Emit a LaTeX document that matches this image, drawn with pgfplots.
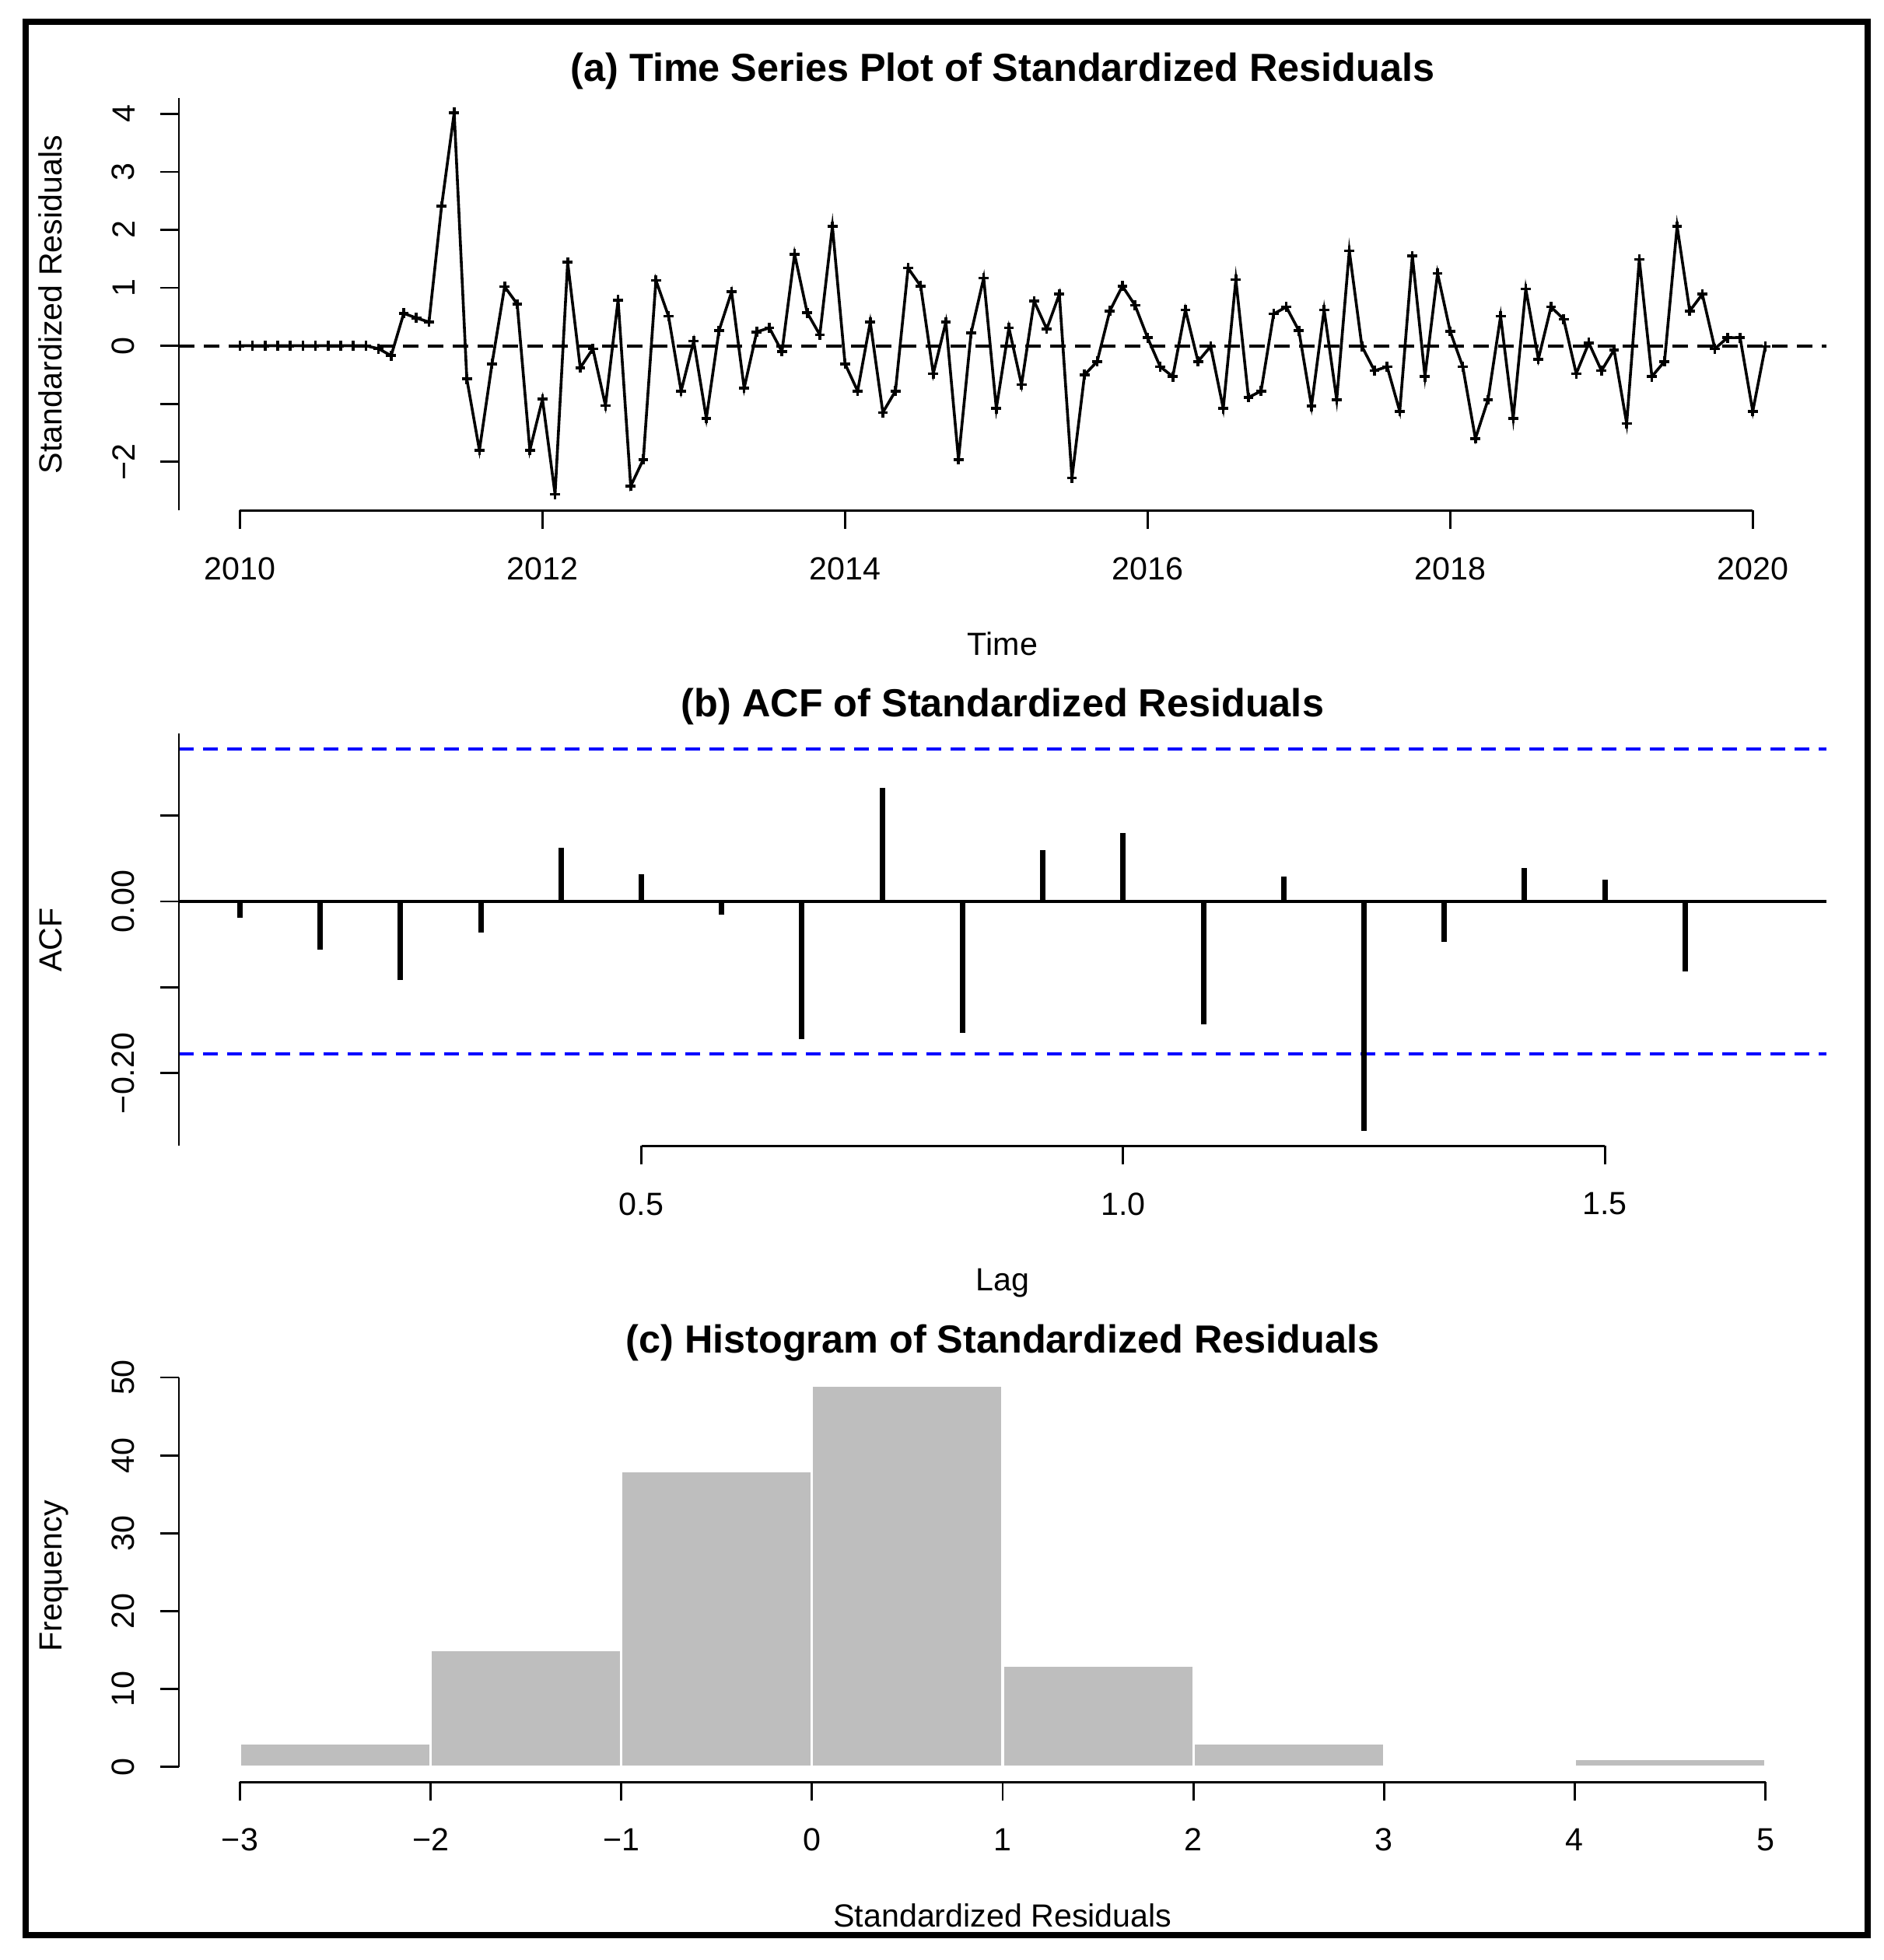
\documentclass[border=0pt]{standalone}
\usepackage{fontspec}
\setmainfont{Liberation Sans}
\usepackage{pgfplots}
\pgfplotsset{compat=1.18}
\usepackage{pgfplotstable}

\definecolor{histgray}{RGB}{190,190,190}
\newcommand{\labfont}{\fontsize{10.3}{12}\selectfont}
\newcommand{\ttlfont}{\fontsize{12.6}{15}\selectfont\bfseries}

% standardized residuals, monthly from Jan 2010 (m = month index)
\pgfplotstableread{
m r
0 0.001
1 0.001
2 0.001
3 0.001
4 0.001
5 0.001
6 0.001
7 0.001
8 0.001
9 0.001
10 0.001
11 -0.05
12 -0.17
13 0.56
14 0.48
15 0.41
16 2.41
17 4.02
18 -0.57
19 -1.80
20 -0.31
21 1.02
22 0.72
23 -1.80
24 -0.92
25 -2.56
26 1.44
27 -0.38
28 -0.05
29 -1.03
30 0.79
31 -2.42
32 -1.96
33 1.13
34 0.51
35 -0.78
36 0.08
37 -1.25
38 0.26
39 0.93
40 -0.73
41 0.24
42 0.31
43 -0.10
44 1.58
45 0.57
46 0.19
47 2.06
48 -0.31
49 -0.78
50 0.41
51 -1.15
52 -0.78
53 1.34
54 1.03
55 -0.48
56 0.41
57 -1.96
58 0.22
59 1.17
60 -1.08
61 0.31
62 -0.67
63 0.77
64 0.29
65 0.89
66 -2.28
67 -0.50
68 -0.27
69 0.60
70 1.03
71 0.70
72 0.14
73 -0.36
74 -0.53
75 0.62
76 -0.27
77 -0.01
78 -1.08
79 1.14
80 -0.89
81 -0.78
82 0.55
83 0.67
84 0.26
85 -1.04
86 0.62
87 -0.93
88 1.64
89 -0.01
90 -0.43
91 -0.36
92 -1.13
93 1.55
94 -0.53
95 1.25
96 0.25
97 -0.36
98 -1.60
99 -0.93
100 0.51
101 -1.25
102 0.98
103 -0.23
104 0.67
105 0.46
106 -0.48
107 0.05
108 -0.43
109 -0.07
110 -1.34
111 1.49
112 -0.53
113 -0.27
114 2.06
115 0.60
116 0.89
117 -0.05
118 0.14
119 0.14
120 -1.13
121 -0.01
}\resid

% autocorrelations, lag k months
\pgfplotstableread{
k acf
1 -0.019
2 -0.056
3 -0.091
4 -0.036
5 0.063
6 0.032
7 -0.015
8 -0.160
9 0.132
10 -0.153
11 0.060
12 0.080
13 -0.143
14 0.029
15 -0.267
16 -0.047
17 0.039
18 0.025
19 -0.081
}\acftab

\pgfplotsset{
  rpanel/.style={
    scale only axis, width=529.5pt, height=132.5pt,
    axis x line*=bottom, axis y line*=left,
    axis line style={draw=none},
    tick align=outside, major tick length=6pt,
    tick style={black, line width=0.7pt},
    ticklabel style={font=\labfont, inner sep=0pt},
    xticklabel style={anchor=north},
    yticklabel style={rotate=90, anchor=south},
    xticklabel shift=8.75pt, yticklabel shift=8pt,
    clip=false,
  },
}

\begin{document}
\begin{tikzpicture}
\path (0,0) rectangle (605.5pt,630pt);
\draw[line width=1.9pt] (8.25pt,8pt) rectangle (600.25pt,623pt);

% (a) time series
\begin{axis}[rpanel, at={(57.5pt,465.875pt)}, anchor=south west,
  xmin=2009.597, xmax=2020.487, ymin=-2.842, ymax=4.267,
  xtick={2010,2012,2014,2016,2018,2020},
  xticklabels={2010,2012,2014,2016,2018,2020},
  ytick={-2,-1,0,1,2,3,4}, yticklabels={−2,,0,1,2,3,4}]
  \addplot[black, line width=0.9pt, mark=+, mark size=1.6pt,
    mark options={line width=0.9pt}]
    table[x expr=2010+\thisrow{m}/12, y=r] {\resid};
  \addplot[black, line width=1pt, dash pattern=on 5pt off 3pt]
    coordinates {(2009.597,0) (2020.487,0)};
  \draw[line width=0.7pt] (rel axis cs:0,0) -- (rel axis cs:0,1);
  \draw[line width=0.7pt] (axis cs:2010,-2.842) -- (axis cs:2020,-2.842);
\end{axis}

% (b) ACF
\begin{axis}[rpanel, at={(57.5pt,261.625pt)}, anchor=south west,
  xmin=0.02, xmax=1.73, ymin=-0.2848, ymax=0.1953,
  xtick={0.5,1,1.5}, xticklabels={0.5,1.0,1.5},
  ytick={-0.2,-0.1,0,0.1}, yticklabels={−0.20,,0.00,}]
  \addplot[blue, line width=1pt, dash pattern=on 4.75pt off 3pt]
    coordinates {(0.02,0.1775) (1.73,0.1775)};
  \addplot[blue, line width=1pt, dash pattern=on 4.75pt off 3pt]
    coordinates {(0.02,-0.1775) (1.73,-0.1775)};
  \addplot[black, line width=1pt] coordinates {(0.02,0) (1.73,0)};
  \addplot[ycomb, black, line width=1.75pt]
    table[x expr=\thisrow{k}/12, y=acf] {\acftab};
  \draw[line width=0.7pt] (rel axis cs:0,0) -- (rel axis cs:0,1);
  \draw[line width=0.7pt] (axis cs:0.5,-0.2848) -- (axis cs:1.5,-0.2848);
\end{axis}

% (c) histogram
\begin{axis}[rpanel, at={(57.5pt,57.15pt)}, anchor=south west,
  xmin=-3.32, xmax=5.32, ymin=-1.96, ymax=50.96,
  xtick={-3,-2,-1,0,1,2,3,4,5},
  xticklabels={−3,−2,−1,0,1,2,3,4,5},
  ytick={0,10,20,30,40,50}, yticklabels={0,10,20,30,40,50}]
  \addplot[ybar interval, fill=histgray, draw=white, line width=0.8pt]
    coordinates {(-3,3) (-2,15) (-1,38) (0,49) (1,13) (2,3) (3,0) (4,1) (5,1)};
  \draw[line width=0.7pt] (axis cs:-3.32,0) -- (axis cs:-3.32,50);
  \draw[line width=0.7pt] (axis cs:-3,-1.96) -- (axis cs:5,-1.96);
\end{axis}

% titles and axis labels
\node[font=\ttlfont, anchor=base] at (322.25pt,603.875pt) {(a) Time Series Plot of Standardized Residuals};
\node[font=\ttlfont, anchor=base] at (322.25pt,399.625pt) {(b) ACF of Standardized Residuals};
\node[font=\ttlfont, anchor=base] at (322.25pt,195.15pt) {(c) Histogram of Standardized Residuals};
\node[font=\labfont, anchor=base] at (322.25pt,419.375pt) {Time};
\node[font=\labfont, anchor=base] at (322.25pt,215.125pt) {Lag};
\node[font=\labfont, anchor=base] at (322.25pt,10.65pt) {Standardized Residuals};
\node[font=\labfont, anchor=base, rotate=90] at (20pt,532.125pt) {Standardized Residuals};
\node[font=\labfont, anchor=base, rotate=90] at (20pt,327.875pt) {ACF};
\node[font=\labfont, anchor=base, rotate=90] at (20pt,123.4pt) {Frequency};
\end{tikzpicture}
\end{document}
